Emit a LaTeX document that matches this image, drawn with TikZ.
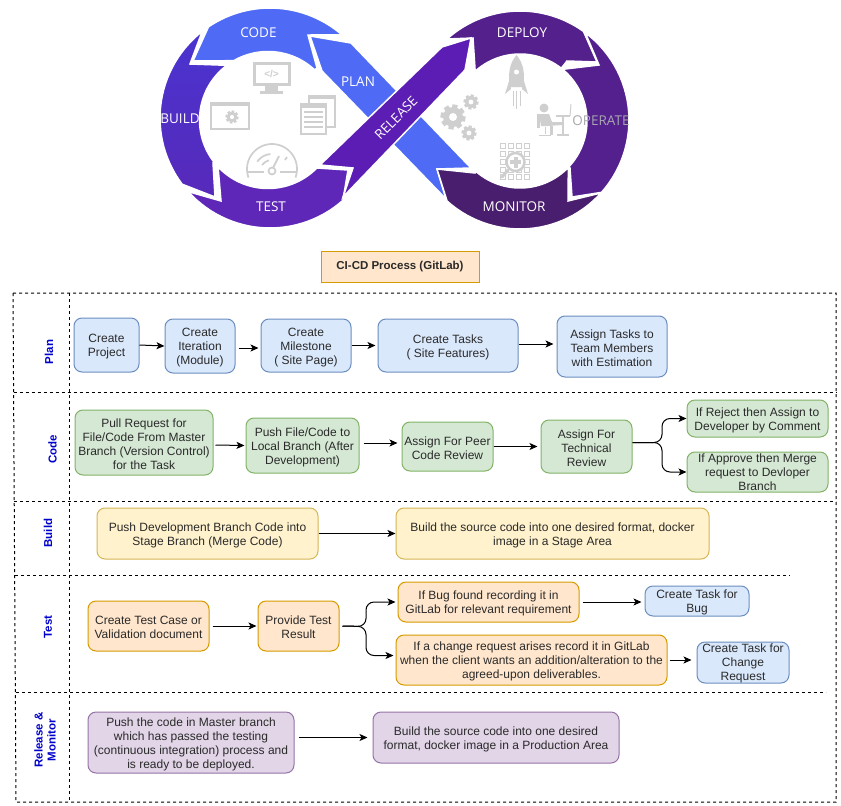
\documentclass[tikz,border=0pt]{standalone}
\usepackage{fontspec}
\setmainfont{Liberation Sans}
\newfontfamily\logofont{Open Sans}
\usetikzlibrary{arrows.meta}
\definecolor{cblue}{HTML}{4F6BF5}
\definecolor{cbuildA}{HTML}{4A34D0}
\definecolor{cbuildB}{HTML}{5729BA}
\definecolor{ctest}{HTML}{5F27B8}
\definecolor{crelease}{HTML}{5C1DB4}
\definecolor{cdeploy}{HTML}{54208C}
\definecolor{coperate}{HTML}{53208E}
\definecolor{cmonitor}{HTML}{4A1E6E}
\definecolor{cicon}{HTML}{CFCFCF}
\definecolor{ctext}{HTML}{2A2A2A}
\definecolor{coptext}{HTML}{A8A6B0}
\definecolor{HTMLb}{HTML}{6C8EBF}\definecolor{HTMLbf}{HTML}{DAE8FC}
\definecolor{HTMLg}{HTML}{82B366}\definecolor{HTMLgf}{HTML}{D5E8D4}
\definecolor{HTMLy}{HTML}{D6B656}\definecolor{HTMLyf}{HTML}{FFF2CC}
\definecolor{HTMLo}{HTML}{D79B00}\definecolor{HTMLof}{HTML}{FFE6CC}
\definecolor{HTMLp}{HTML}{9673A6}\definecolor{HTMLpf}{HTML}{E1D5E7}
\definecolor{HTMLl}{HTML}{0000CC}
\newcommand{\fs}{\rule{0pt}{12pt}}
\newcommand{\fss}{\rule{0pt}{9.8pt}}
\newcommand{\lgear}[3]{\begin{scope}[shift={(#1,#2)}]
  \foreach \a in {0,45,...,315}{\draw[cicon,line width=0.42*#3 pt] (0,0) -- (\a+10:#3);}
  \fill[cicon] (0,0) circle ({0.8*#3 pt});
  \fill[white] (0,0) circle ({0.32*#3 pt});
\end{scope}}
\tikzset{
  x=1pt,y=-1pt,
  seg/.style={draw=white,line width=1.5pt,line join=miter},
  logotext/.style={text=white,font=\logofont\fontsize{13.5}{15}\selectfont,inner sep=0pt,yshift=-1pt},
  flow/.style={rounded corners=8pt,line width=1pt,align=center,inner sep=0pt,text=ctext,
    font=\fontsize{12}{14}\selectfont},
  bluebox/.style={flow,draw=HTMLb,fill=HTMLbf},
  greenbox/.style={flow,draw=HTMLg,fill=HTMLgf},
  yellowbox/.style={flow,draw=HTMLy,fill=HTMLyf},
  orangebox/.style={flow,draw=HTMLo,fill=HTMLof},
  purplebox/.style={flow,draw=HTMLp,fill=HTMLpf},
  lane/.style={black,line width=1pt,dash pattern=on 3pt off 3pt},
  lanelabel/.style={rotate=90,text=HTMLl,align=center,inner sep=0pt,
    font=\bfseries\fontsize{11.5}{13}\selectfont},
  arr/.style={black,line width=1pt,-{Stealth[length=8pt,width=7pt,inset=2pt]}},
  brace/.style={arr,rounded corners=8pt},
}
\begin{document}
\begin{tikzpicture}
\useasboundingbox (0,0) rectangle (841,806);
\fill[white] (0,0) rectangle (841,806);

% --- logo
\fill[cblue,seg] plot[domain=236:311,samples=30] ({270+110*cos(\x)},{118+110*sin(\x)}) -- (308,35) -- (317,68) -- plot[domain=313:240,samples=30] ({268+68.5*cos(\x)},{120+68.5*sin(\x)}) -- (193,61) -- cycle;
\path[seg,top color=cbuildA,bottom color=cbuildB] plot[domain=232:143,samples=30] ({270+110*cos(\x)},{118+110*sin(\x)}) -- (215,197) -- (213,163) -- plot[domain=142:233,samples=30] ({268+68.5*cos(\x)},{120+68.5*sin(\x)}) -- (190,64) -- cycle;
\fill[ctest,seg] plot[domain=138:48.5,samples=30] ({270+110*cos(\x)},{118+110*sin(\x)}) -- (348,170) -- (317,168) -- plot[domain=44.4:136.8,samples=30] ({268+68.5*cos(\x)},{120+68.5*sin(\x)}) -- (221,201) -- cycle;
\fill[cblue,seg] (310,36) -- (351,43) -- (471,168) -- (437,169) -- (446,199) -- (322,71) -- cycle;
\fill[cdeploy,seg] plot[domain=228:305.6,samples=30] ({520+109*cos(\x)},{120+109*sin(\x)}) -- (597,62) -- (567,61) -- plot[domain=308:228,samples=30] ({520+67*cos(\x)},{121+67*sin(\x)}) -- (473,38) -- cycle;
\fill[coperate,seg] plot[domain=306.8:401.6,samples=30] ({520+109*cos(\x)},{120+109*sin(\x)}) -- (572,197) -- (570,168) -- plot[domain=403:309.5,samples=30] ({520+67*cos(\x)},{121+67*sin(\x)}) -- (599,65) -- cycle;
\fill[cmonitor,seg] plot[domain=42:132,samples=30] ({520+109*cos(\x)},{120+109*sin(\x)}) -- (437,169) -- (475,173) -- plot[domain=131:43.8,samples=30] ({520+67*cos(\x)},{121+67*sin(\x)}) -- (568,201) -- cycle;
\fill[crelease,seg] (320,165) -- (442,47) -- (471,38) -- (465,70) -- (343,197) -- (353,168) -- cycle;

% icons left
\draw[cicon,line width=3pt] (254,63) rectangle (289,84);
\fill[cicon] (265,86) rectangle (278,91);
\fill[cicon] (260,91) rectangle (283,94);
\node[text=cicon,inner sep=0pt,font=\bfseries\fontsize{10}{10}\selectfont] (codeglyph) at (271.5,74) {</>};
\draw[cicon,line width=1.5pt] (211,103) rectangle (249,129);
\fill[cicon] (211,103) rectangle (249,106);
\lgear{232}{117}{6.5}
\draw[cicon,line width=1.5pt,fill=white] (309,96) rectangle (335,127);
\fill[cicon] (309,96) rectangle (335,99);
\draw[cicon,line width=1.5pt,fill=white] (301,104) rectangle (326,134);
\fill[cicon] (301,104) rectangle (326,108);
\foreach \yy in {112,117,122,127}{\draw[cicon,line width=2pt] (304,\yy) -- (323,\yy);}
\draw[cicon,line width=1.7pt,line join=round] plot[domain=160:380,samples=30] ({272+25*cos(\x)},{169+25*sin(\x)});
\draw[cicon,line width=1.7pt] (248,172) -- (264,172) (280,172) -- (296,172);
\draw[cicon,line width=1.7pt] plot[domain=215:265,samples=12] ({272+18*cos(\x)},{172+18*sin(\x)});
\draw[cicon,line width=1.7pt] plot[domain=215:255,samples=12] ({272+12*cos(\x)},{172+12*sin(\x)});
\draw[cicon,line width=2pt] (272,170) -- (279,156);
\draw[cicon,line width=1.7pt,fill=white] (272,171) circle (3.5pt);
\draw[cicon,line width=1.7pt] (285,160) -- (287,157);

% icons right
\fill[cicon] (516.5,55) .. controls (524,64) and (525,74) .. (523,87) -- (510,87) .. controls (508,74) and (509,64) .. (516.5,55) -- cycle;
\fill[cicon] (510,78) -- (505,94) -- (511,89) -- cycle;
\fill[cicon] (523,78) -- (528,94) -- (522,89) -- cycle;
\fill[white] (516.5,72) circle (2.5pt);
\draw[cicon,line width=1pt] (513,91) -- (513,106) (516.5,91) -- (516.5,109) (520,91) -- (520,106);
\lgear{453}{117}{12.5}
\lgear{471}{102}{7.5}
\lgear{469}{133}{7.5}
\fill[cicon] (544,108) circle (4.5pt);
\fill[cicon] (539,114) -- (549,114) -- (552,122) -- (562,122) -- (562,125) -- (548,126) -- (541,126) -- cycle;
\fill[cicon] (550,126) -- (550,135) -- (553,135) -- (553,126) -- cycle;
\fill[cicon] (537,114) rectangle (540,128);
\draw[cicon,line width=1pt] (545,127) -- (545,134) (539,135) -- (551,135);
\draw[cicon,line width=1.5pt] (556,116) -- (570,116) (563,116) -- (563,135) (557,135) -- (569,135);
\draw[cicon,line width=1pt] (570,116) -- (571,104);
\foreach \xx in {503,511,519,527}{\foreach \yy in {146,154,162,170,177}{
  \draw[cicon,line width=.8pt] (\xx-2.5,\yy-2.5) rectangle (\xx+2.5,\yy+2.5);}}
\draw[cicon,line width=2.5pt,fill=white] (515.5,162) circle (9pt);
\draw[cicon,line width=3pt,line cap=round] (508,170) -- (502,177);
\fill[cicon] (513.5,156.5) rectangle (517.5,167.5);
\fill[cicon] (510,160) rectangle (521,164);

\node[logotext] (lcode) at (258.5,32) {CODE};
\node[logotext] (lbuild) at (180,118) {BUILD};
\node[logotext] (ltest) at (271,206) {TEST};
\node[logotext] (lplan) at (358,81) {PLAN};
\node[logotext,rotate=45] (lrel) at (396,117) {RELEASE};
\node[logotext] (ldep) at (522,32) {DEPLOY};
\node[logotext,text=coptext] (lop) at (601,120) {OPERATE};
\node[logotext] (lmon) at (514,206) {MONITOR};

% --- title
\node[draw=HTMLo,fill=HTMLof,line width=1pt,minimum width=158pt,minimum height=31pt,inner sep=0pt,
  text=ctext,font=\bfseries\fontsize{11.5}{14}\selectfont] (title) at (400,266.5) {CI-CD Process (GitLab)};

% --- swimlanes
\draw[lane] (13,293) -- (836,293) -- (836,802) -- (16,802) -- cycle;
\draw[lane] (69,293) -- (69,802);
\draw[lane] (13.5,392.5) -- (836,392.5);
\draw[lane] (14,501) -- (836,501);
\draw[lane] (15,575) -- (790,575);
\draw[lane] (16,692) -- (826,692);
\node[lanelabel] (lpl) at (49,352) {Plan};
\node[lanelabel] (lco) at (52.5,449) {Code};
\node[lanelabel] (lbu) at (48,533) {Build};
\node[lanelabel] (lte) at (48,627) {Test};
\node[lanelabel] (lre) at (45,740) {Release \&\\Monitor};

% --- plan
\node[bluebox,minimum width=65pt,minimum height=54pt] (p1) at (106.5,345) {\fs Create\\Project};
\node[bluebox,minimum width=70pt,minimum height=54pt] (p2) at (200,346) {\fs Create\\Iteration\\(Module)};
\node[bluebox,minimum width=90pt,minimum height=53pt] (p3) at (306,345.5) {\fs Create\\Milestone\\( Site Page)};
\node[bluebox,minimum width=140pt,minimum height=53pt] (p4) at (448,345.5) {\fs Create Tasks\\( Site Features)};
\node[bluebox,minimum width=110pt,minimum height=61pt] (p5) at (612,346.5) {\fs Assign Tasks to\\Team Members\\with Estimation};
\draw[arr] (p1.east) -- (p2.west);
\draw[arr] ([xshift=3pt,yshift=-2pt]p2.east) -- ([xshift=-2pt,yshift=-2.5pt]p3.west);
\draw[arr] (p3.east) -- ([xshift=-2pt]p4.west);
\draw[arr] ([yshift=1.5pt]p4.east) -- ([xshift=-3pt,yshift=2.5pt]p5.west);

% --- code
\node[greenbox,minimum width=138pt,minimum height=65pt] (c1) at (144,442.5) {\fs Pull Request for\\File/Code From Master\\Branch (Version Control)\\for the Task};
\node[greenbox,minimum width=113pt,minimum height=55pt] (c2) at (302.5,445.5) {\fs Push File/Code to\\Local Branch (After\\Development)};
\node[greenbox,minimum width=91pt,minimum height=49pt] (c3) at (447.5,446.5) {\fs Assign For Peer\\Code Review};
\node[greenbox,minimum width=91pt,minimum height=53pt] (c4) at (586.5,446.5) {\fs Assign For\\Technical\\Review};
\node[greenbox,minimum width=141pt,minimum height=37pt] (c5) at (757.5,418.5) {\fs If Reject then Assign to\\Developer by Comment};
\node[greenbox,minimum width=141pt,minimum height=40pt] (c6) at (757.5,472) {\fss If Approve then Merge\\request to Devloper\\Branch};
\coordinate (c4m) at (662,442.5);
\draw[arr] ([xshift=2pt,yshift=-2.5pt]c1.east) -- ([xshift=-1pt]c2.west);
\draw[arr] ([xshift=4pt,yshift=2.5pt]c2.east) -- ([xshift=-4pt,yshift=3.5pt]c3.west);
\draw[arr] (c3.east) -- ([xshift=-3pt]c4.west);
\draw[brace] ([yshift=4pt]c4.east) -- (c4m) |- (c5.west);
\draw[brace] ([yshift=4pt]c4.east) -- (c4m) |- (c6.west);

% --- build
\node[yellowbox,minimum width=221pt,minimum height=51pt] (b1) at (207.5,533.5) {\fs Push Development Branch Code into\\Stage Branch (Merge Code)};
\node[yellowbox,minimum width=313pt,minimum height=51pt] (b2) at (552.5,533.5) {\fs Build the source code into one desired format, docker\\image in a Stage Area};
\draw[arr] (b1.east) -- (b2.west);

% --- test
\node[orangebox,minimum width=121pt,minimum height=50pt] (t1) at (148.5,626) {\fs Create Test Case or\\Validation document};
\node[orangebox,minimum width=81pt,minimum height=50pt] (t2) at (298.5,626) {\fs Provide Test\\Result};
\node[orangebox,minimum width=181pt,minimum height=40pt] (t3) at (488.5,602) {\fs If Bug found recording it in\\GitLab for relevant requirement};
\node[orangebox,minimum width=271pt,minimum height=50pt] (t4) at (531.5,660) {\fs If a change request arises record it in GitLab\\when the client wants an addition/alteration to the\\agreed-upon deliverables.};
\node[bluebox,minimum width=104pt,minimum height=30pt] (t5) at (697,601) {\fs Create Task for\\Bug};
\node[bluebox,minimum width=92pt,minimum height=41pt] (t6) at (743,662.5) {\fss Create Task for\\Change\\Request};
\coordinate (t2m) at (366,626.5);
\draw[arr] ([xshift=3pt]t1.east) -- ([xshift=-1pt]t2.west);
\draw[brace] ([xshift=3pt]t2.east) -- (t2m) |- ([xshift=-2pt]t3.west);
\draw[brace] ([xshift=3pt]t2.east) -- (t2m) |- ([xshift=-2pt,yshift=4.5pt]t4.west);
\draw[arr] ([xshift=3pt]t3.east) -- ([xshift=-3pt,yshift=-1pt]t5.west);
\draw[arr] ([xshift=2pt]t4.east) -- ([xshift=-5pt,yshift=2.5pt]t6.west);

% --- release
\node[purplebox,minimum width=206pt,minimum height=61pt] (r1) at (191,742.5) {\fs Push the code in Master branch\\which has passed the testing\\(continuous integration) process and\\is ready to be deployed.};
\node[purplebox,minimum width=246pt,minimum height=51pt] (r2) at (496,737.5) {\fs Build the source code into one desired\\format, docker image in a Production Area};
\draw[arr] ([xshift=4pt,yshift=5pt]r1.east) -- ([xshift=-5pt]r2.west);
\end{tikzpicture}
\end{document}
